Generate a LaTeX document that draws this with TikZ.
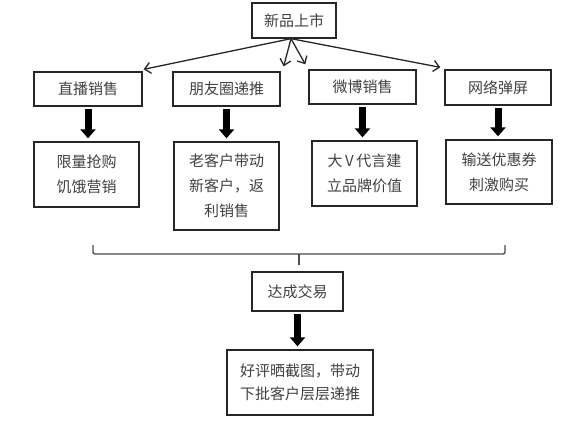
\documentclass[tikz,border=0pt]{standalone}
\usepackage{fontspec}
\newfontfamily\cjk{Noto Sans CJK SC}
\usetikzlibrary{arrows.meta,calc}
\begin{document}
\begin{tikzpicture}[x=1pt,y=-1pt,
  box/.style={draw=black!85, line width=1.3pt, align=center, inner sep=0pt,
    font=\cjk\fontsize{15}{25}\selectfont, text=black!75},
  thinarrow/.style={draw=black!85, line width=1.3pt, -{Straight Barb[length=6pt,width=11pt]}},
  fatarrow/.style={draw=black, line width=7pt, -{Triangle[length=9pt,width=15pt]},
    shorten <=2pt, shorten >=3pt},
  bracket/.style={draw=black!70, line width=1.4pt}]
\useasboundingbox (0,0) rectangle (578,425);

\node[box, minimum width=84pt, minimum height=35pt] (top) at (294,20.5) {新品上市};

\node[box, minimum width=108pt, minimum height=34pt] (b1) at (88,89) {直播销售};
\node[box, minimum width=107pt, minimum height=34pt] (b2) at (226.5,89) {朋友圈递推};
\node[box, minimum width=107pt, minimum height=34pt] (b3) at (362.5,87) {微博销售};
\node[box, minimum width=106pt, minimum height=35pt] (b4) at (498,87.5) {网络弹屏};

\node[box, minimum width=105pt, minimum height=65pt] (c1) at (86.5,174.5) {限量抢购\\饥饿营销};
\node[box, minimum width=105pt, minimum height=88pt] (c2) at (226.5,186) {老客户带动\\新客户，返\\利销售};
\node[box, minimum width=105pt, minimum height=65pt] (c3) at (364.5,173.5) {大\,V\,代言建\\立品牌价值};
\node[box, minimum width=106pt, minimum height=64pt] (c4) at (499,172) {输送优惠券\\刺激购买};

\node[box, minimum width=91pt, minimum height=39pt] (d) at (297.5,291.5) {达成交易};
\node[box, minimum width=146pt, minimum height=65pt,
  font=\cjk\fontsize{15}{23}\selectfont] (e) at (300,382.5) {好评晒截图，带动\\下批客户层层递推};

\coordinate (s) at ($(top.south)+(-3,0)$);
\coordinate (e1) at ($(b1.north east)+(1,-2)$);
\coordinate (e2) at ($(b2.north east)+(3,-5)$);
\coordinate (e3) at ($(b3.north west)+(-3,-5)$);
\coordinate (e4) at ($(b4.north west)+(-4,-2)$);
\draw[thinarrow] (s) -- (e1);
\draw[thinarrow] (s) -- (e2);
\draw[thinarrow] (s) -- (e3);
\draw[thinarrow] (s) -- (e4);

\draw[fatarrow] (b1.south) -- (c1.north -| b1.south);
\draw[fatarrow] (b2.south) -- (c2.north);
\draw[fatarrow] (b3.south) -- (b3.south |- c3.north);
\draw[fatarrow] (b4.south) -- (b4.south |- c4.north);
\draw[fatarrow] (d.south) -- (d.south |- e.north);

\draw[bracket, rounded corners=2pt] (93,245) -- (93,254) -- (505,254) -- (505,245);
\coordinate (tip) at (299,265);
\draw[bracket] (299,254) -- (tip);
\end{tikzpicture}
\end{document}
